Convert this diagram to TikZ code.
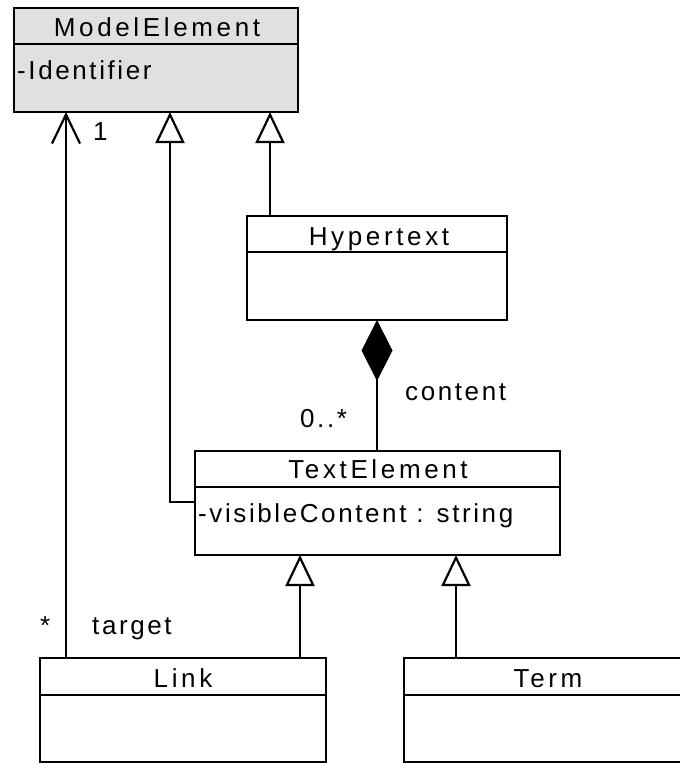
\documentclass[tikz,border=0pt]{standalone}
\usepackage{fontspec}
\setmainfont[LetterSpace=10]{Liberation Sans}
\newfontfamily\hdrfont[LetterSpace=14]{Liberation Sans}
\usetikzlibrary{arrows.meta}

\definecolor{abstractfill}{HTML}{E0E0E0}

\tikzset{
  cls/.style={draw=black, line width=2.6pt, rectangle, inner sep=0pt, outer sep=0pt,
              minimum height=104pt, fill=white},
  divider/.style={line width=2.6pt},
  hdr/.style={anchor=base, inner sep=0pt, font=\hdrfont\fontsize{26}{30}\selectfont},
  attr/.style={anchor=base west, inner sep=0pt, font=\fontsize{26}{30}\selectfont},
  lbl/.style={anchor=base west, inner sep=0pt, font=\fontsize{26}{30}\selectfont},
  conn/.style={line width=2.2pt},
  gen/.style={conn, -{Triangle[open, length=31pt, width=29pt]}},
  assoc/.style={conn, -{Straight Barb[length=29pt, width=28pt]}},
  compo/.style={conn, {Diamond[length=61pt, width=31pt, fill=black]}-},
}

\begin{document}
\begin{tikzpicture}[x=1pt, y=-1pt]
  \useasboundingbox (0,0) rectangle (680,763);
  \fill[white] (0,0) rectangle (680,763);
  \clip (0,0) rectangle (680,763);

  % class boxes
  \node[cls, fill=abstractfill, minimum width=284pt] (me)   at (156,60)    {};
  \node[cls, minimum width=260pt]                   (hyp)  at (377,268)   {};
  \node[cls, minimum width=365pt]                   (te)   at (377.5,503) {};
  \node[cls, minimum width=286pt]                   (link) at (183,710)   {};
  \node[cls, minimum width=286pt]                   (term) at (547,710)   {};

  % compartment dividers
  \draw[divider] (me.west |- 0,44)    -- (me.east |- 0,44);
  \draw[divider] (hyp.west |- 0,252)  -- (hyp.east |- 0,252);
  \draw[divider] (te.west |- 0,487)   -- (te.east |- 0,487);
  \draw[divider] (link.west |- 0,695) -- (link.east |- 0,695);
  \draw[divider] (term.west |- 0,695) -- (term.east |- 0,695);

  % class names and attributes
  \node[hdr] (meName)   at (157,36.5) {ModelElement};
  \node[attr] (meAttr)  at (17,79)    {-Identifier};
  \node[hdr] (hypName)  at (379,245)  {Hypertext};
  \node[hdr] (teName)   at (378,478)  {TextElement};
  \node[attr] (teAttr)  at (198,522)  {-visibleContent : string};
  \node[hdr] (linkName) at (183,687)  {Link};
  \node[hdr] (termName) at (548,687)  {Term};

  % x positions of the connectors
  \coordinate (xa) at (66,0);
  \coordinate (xg1) at (170,502);
  \coordinate (xg2) at (270,0);
  \coordinate (xl) at (300,0);
  \coordinate (xt) at (456,0);

  % association Link -> ModelElement
  \draw[assoc] (link.north -| xa) -- (me.south -| xa);
  % generalisations
  \draw[gen] (te.west |- xg1) -- (xg1) -- (me.south -| xg1);
  \draw[gen] (hyp.north -| xg2) -- (me.south -| xg2);
  \draw[gen] (link.north -| xl) -- (te.south -| xl);
  \draw[gen] (term.north -| xt) -- (te.south -| xt);
  % composition Hypertext <>-- TextElement
  \draw[compo] (hyp.south) -- (hyp.south |- te.north);

  % role names and multiplicities
  \node[lbl] (m1)      at (93,140)  {1};
  \node[lbl] (mstar)   at (40,634)  {*};
  \node[lbl] (rtarget) at (92,634)  {target};
  \node[lbl] (rcont)   at (405,400) {content};
  \node[lbl] (mcont)   at (300,427) {0..*};
\end{tikzpicture}
\end{document}
